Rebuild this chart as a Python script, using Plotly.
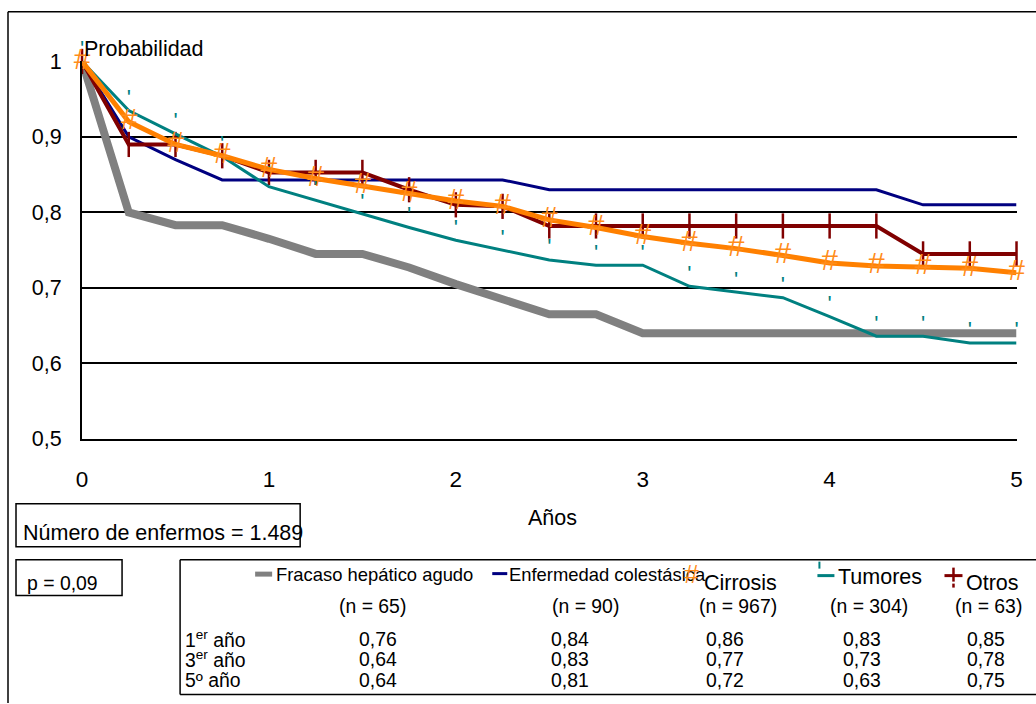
import plotly.graph_objects as go

# ---------------- data ----------------
years = [0, 0.25, 0.5, 0.75, 1, 1.25, 1.5, 1.75, 2, 2.25, 2.5, 2.75, 3,
         3.25, 3.5, 3.75, 4, 4.25, 4.5, 4.75, 5]

fracaso = [1.0, 0.800, 0.783, 0.783, 0.765, 0.745, 0.745, 0.727, 0.705, 0.685, 0.665,
           0.665, 0.640, 0.640, 0.640, 0.640, 0.640, 0.640, 0.640, 0.640, 0.640]
colestasica = [1.0, 0.900, 0.870, 0.843, 0.843, 0.843, 0.843, 0.843, 0.843, 0.843, 0.830,
               0.830, 0.830, 0.830, 0.830, 0.830, 0.830, 0.830, 0.810, 0.810, 0.810]
cirrosis = [1.0, 0.920, 0.890, 0.875, 0.857, 0.845, 0.835, 0.825, 0.815, 0.808, 0.790,
            0.780, 0.768, 0.759, 0.752, 0.743, 0.733, 0.729, 0.728, 0.726, 0.720]
tumores = [1.0, 0.935, 0.904, 0.874, 0.834, 0.816, 0.797, 0.780, 0.763, 0.750, 0.737,
           0.730, 0.730, 0.702, 0.694, 0.687, 0.662, 0.636, 0.636, 0.627, 0.627]
otros = [1.0, 0.890, 0.890, 0.875, 0.853, 0.853, 0.853, 0.830, 0.810, 0.808, 0.782,
         0.782, 0.782, 0.782, 0.782, 0.782, 0.782, 0.782, 0.745, 0.745, 0.745]

y_ticks = [0.5, 0.6, 0.7, 0.8, 0.9, 1.0]
y_ticktext = ["0,5", "0,6", "0,7", "0,8", "0,9", "1"]
x_ticks = [0, 1, 2, 3, 4, 5]

groups = ["Fracaso hepático agudo", "Enfermedad colestásica", "Cirrosis", "Tumores", "Otros"]
n_pacientes = [65, 90, 967, 304, 63]
surv_1 = [0.76, 0.84, 0.86, 0.83, 0.85]
surv_3 = [0.64, 0.83, 0.77, 0.73, 0.78]
surv_5 = [0.64, 0.81, 0.72, 0.63, 0.75]
row_labels = ["1<sup>er</sup> año", "3<sup>er</sup> año", "5º año"]

# ---------------- layout helpers ----------------
# positions below are given in target-picture pixels; they are converted to
# figure-paper fractions, compensating the page offset/scale of the viewer
W, H = 1044, 716
BX, SX, BY, SY = 6.0, 0.988, 11.5, 0.968
FONT = "Arial, Liberation Sans, sans-serif"
C_GRAY, C_NAVY, C_ORANGE, C_TEAL, C_RED = "#808080", "#000080", "#FF8000", "#008080", "#800000"


def px(x):
    return min(max(((x - BX) / SX) / W, 0.0), 1.0)


def py(y):
    return min(max(1 - ((y - BY) / SY) / H, 0.0), 1.0)


def fs(s):
    return round(s / 0.978, 1)


def fmt(v):
    return f"{v:.2f}".replace(".", ",")


fig = go.Figure()
fig.add_trace(go.Scatter(x=years, y=fracaso, mode="lines", name=groups[0],
                         line=dict(color=C_GRAY, width=8)))
fig.add_trace(go.Scatter(x=years, y=colestasica, mode="lines", name=groups[1],
                         line=dict(color=C_NAVY, width=3)))
fig.add_trace(go.Scatter(x=years, y=otros, mode="lines+markers", name=groups[4],
                         line=dict(color=C_RED, width=4),
                         marker=dict(symbol="line-ns", size=18, color=C_RED,
                                     line=dict(color=C_RED, width=2.5)),
                         cliponaxis=False))
fig.add_trace(go.Scatter(x=years, y=tumores, mode="lines+text", name=groups[3],
                         line=dict(color=C_TEAL, width=3),
                         text=["'"] * len(years), textposition="top center",
                         textfont=dict(color=C_TEAL, size=22, family=FONT),
                         cliponaxis=False))
fig.add_trace(go.Scatter(x=years, y=cirrosis, mode="lines+text", name=groups[2],
                         line=dict(color=C_ORANGE, width=5),
                         text=["#"] * len(years), textposition="middle center",
                         textfont=dict(color="#FF8C1A", size=30, family=FONT),
                         cliponaxis=False))

shapes = []
top = max(py(8), 0.0)
top = min(top, 1 - 0.8 / H)
# outer frame (top + left)
shapes.append(dict(type="line", xref="paper", yref="paper", x0=px(8), x1=1.0, y0=top, y1=top,
                   line=dict(color="black", width=1.5)))
shapes.append(dict(type="line", xref="paper", yref="paper", x0=px(8), x1=px(8), y0=top, y1=0.0,
                   line=dict(color="black", width=1.5)))
# boxes
for (x0, y0, x1, y1) in [(16, 505, 300, 548), (16, 561, 122, 597)]:
    shapes.append(dict(type="rect", xref="paper", yref="paper", x0=px(x0), x1=px(x1), y0=py(y1), y1=py(y0),
                       line=dict(color="black", width=1.5), fillcolor="rgba(0,0,0,0)"))
# table box: open on the right (extends beyond the picture)
for (x0, y0, x1, y1) in [(180, 561, 1040, 561), (180, 696, 1040, 696), (180, 561, 180, 696)]:
    shapes.append(dict(type="line", xref="paper", yref="paper", x0=px(x0), x1=px(x1), y0=py(y0), y1=py(y1),
                       line=dict(color="black", width=1.5)))
# legend swatches
shapes.append(dict(type="rect", xref="paper", yref="paper", x0=px(255), x1=px(272), y0=py(578), y1=py(573),
                   line=dict(width=0), fillcolor=C_GRAY))
shapes.append(dict(type="line", xref="paper", yref="paper", x0=px(492), x1=px(507), y0=py(575), y1=py(575),
                   line=dict(color=C_NAVY, width=3)))
shapes.append(dict(type="line", xref="paper", yref="paper", x0=px(817), x1=px(834), y0=py(577), y1=py(577),
                   line=dict(color=C_TEAL, width=3)))
shapes.append(dict(type="line", xref="paper", yref="paper", x0=px(819), x1=px(819), y0=py(570), y1=py(563),
                   line=dict(color=C_TEAL, width=2)))
shapes.append(dict(type="line", xref="paper", yref="paper", x0=px(944), x1=px(962), y0=py(577), y1=py(577),
                   line=dict(color=C_RED, width=3)))
shapes.append(dict(type="line", xref="paper", yref="paper", x0=px(953), x1=px(953), y0=py(583), y1=py(569),
                   line=dict(color=C_RED, width=2.5)))
shapes.append(dict(type="line", xref="paper", yref="paper", x0=px(953), x1=px(953), y0=py(589), y1=py(585),
                   line=dict(color=C_RED, width=2.5)))

ann = []


def text(t, x, y, size, xanchor="left", yanchor="middle", color="black"):
    ann.append(dict(text=t, x=px(x), y=py(y), xref="paper", yref="paper", showarrow=False,
                    xanchor=xanchor, yanchor=yanchor, font=dict(size=fs(size), color=color, family=FONT)))


text("Probabilidad", 82, 50, 21)
text("Años", 552, 519, 21, xanchor="center")
text("Número de enfermos = 1.489", 21, 534, 21)
text("p = 0,09", 62, 584, 19, xanchor="center")

# legend/table header
text(groups[0], 274, 576, 18)
text(groups[1], 507, 576, 18)
text("#", 691, 575, 26, xanchor="center", color="#FF8C1A")
text(groups[2], 702, 584, 21)
text(groups[3], 836, 578, 21)
text(groups[4], 964, 584, 21)

n_left = [337, 550, 697, 828, 953]
val_center = [378, 570, 725, 862, 985]
for i in range(5):
    text(f"(n = {n_pacientes[i]})", n_left[i], 607, 19)
row_y = [640, 661, 682]
for r, (lab, vals) in enumerate(zip(row_labels, [surv_1, surv_3, surv_5])):
    text(lab, 183, row_y[r], 19)
    for i in range(5):
        text(fmt(vals[i]), val_center[i], row_y[r], 19, xanchor="center")

fig.update_layout(
    width=W, height=H, margin=dict(l=0, r=0, t=0, b=0),
    paper_bgcolor="white", plot_bgcolor="white", showlegend=False,
    font=dict(family=FONT, color="black"),
    xaxis=dict(domain=[px(82), px(1016)], range=[0, 5], tickvals=x_ticks,
               showline=True, linecolor="black", linewidth=2,
               ticks="outside", ticklen=19, tickcolor="rgba(0,0,0,0)",
               tickfont=dict(size=fs(22)), showgrid=False, zeroline=False),
    yaxis=dict(domain=[py(440), py(62)], range=[0.5, 1.0], tickvals=y_ticks, ticktext=y_ticktext,
               showline=True, linecolor="black", linewidth=2,
               showgrid=True, gridcolor="black", gridwidth=1.5,
               ticks="outside", ticklen=14, tickcolor="rgba(0,0,0,0)",
               tickfont=dict(size=fs(21)), zeroline=False),
    shapes=shapes, annotations=ann,
)

fig.write_html("out.html")
